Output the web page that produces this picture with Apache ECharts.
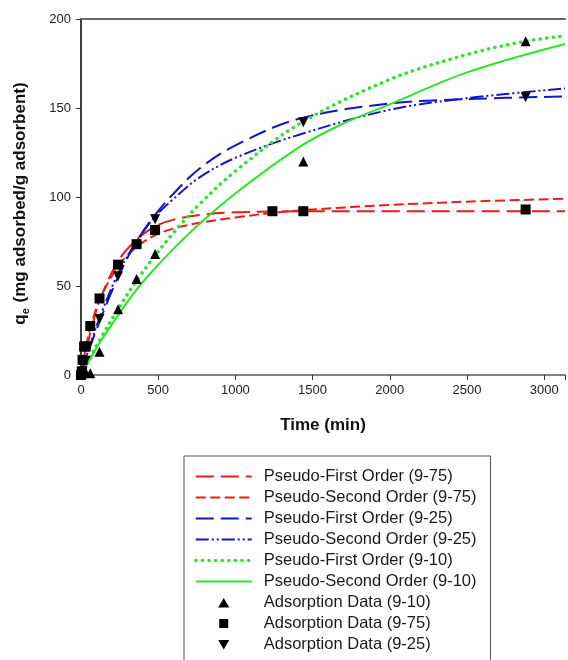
<!DOCTYPE html>
<html>
<head>
<meta charset="utf-8">
<script src="https://cdn.jsdelivr.net/npm/echarts@6/dist/echarts.min.js"></script>
<style>
html,body{margin:0;padding:0;background:#fff;}
#chart{width:568px;height:660px;}
</style>
</head>
<body>
<div id="chart"></div>
<script>
// Curve samples: [time (min), qe]
var pfo75 = [[0,0],[30,12.5],[60,23.5],[120,41.5],[240,64],[360,76],[480,83.5],[600,87.3],[800,90.2],[1000,91.4],[1500,92],[2000,92],[2500,92],[3135,92]];
var pso75 = [[0,0],[30,15],[60,26],[120,42],[240,61],[360,72],[480,78.5],[600,82.3],[768,85.5],[1000,88.5],[1284,91.5],[1500,93],[2000,95.5],[2500,97.4],[3135,99]];
var pfo25 = [[0,0],[30,8],[60,16],[120,30],[240,55],[360,75],[480,90],[600,102],[768,116],[1000,129],[1413,144],[2000,152.5],[2500,155],[3135,156.5]];
var pso25 = [[0,0],[30,9],[60,17],[120,32],[240,57],[360,75],[480,89],[600,99],[768,111],[1000,122],[1413,135],[2000,149],[2500,155.5],[3135,161]];
var pfo10 = [[0,0],[30,5],[60,10],[120,19.5],[240,37],[360,53],[480,67],[600,80],[768,96],[1000,114.5],[1413,141],[2000,166],[2500,180],[2880,187.5],[3135,190.5]];
var pso10 = [[0,0],[30,4.5],[60,9],[120,18],[240,33.5],[360,48],[480,60],[600,71],[768,85],[1000,102],[1413,128],[1692,141],[2000,152],[2500,170],[3135,186]];
// Measured data points
var data10 = [[0,0],[10,1],[30,1.5],[60,1],[120,13],[240,37],[360,54],[480,68],[1440,120],[2880,187.5]];
var data75 = [[0,0],[5,2],[10,8.5],[20,16],[30,16],[60,27.5],[120,43],[240,62],[360,73.5],[480,81.5],[1240,92],[1440,92],[2880,93]];
var data25 = [[0,0],[10,2],[30,8],[45,16],[120,31.5],[240,55.5],[480,87.5],[1440,142],[2880,156]];
var names = ['Pseudo-First Order (9-75)','Pseudo-Second Order (9-75)','Pseudo-First Order (9-25)','Pseudo-Second Order (9-25)','Pseudo-First Order (9-10)','Pseudo-Second Order (9-10)','Adsorption Data (9-10)','Adsorption Data (9-75)','Adsorption Data (9-25)'];

var FONT = '"Liberation Sans", Arial, sans-serif';
var RED = '#f01818', BLUE = '#1414c8', GREEN = '#28e628';
// legend marker icons: invisible corner points keep the 56x10 box so the marker is not stretched
var BOX = 'M0,0 L0.01,0 L0,0.01 Z M56,10 L55.99,10 L56,9.99 Z ';
var ICON_UP = 'path://' + BOX + 'M22.5,10 L33.5,10 L28,0.5 Z';
var ICON_SQ = 'path://' + BOX + 'M23.5,0.5 L32.5,0.5 L32.5,9.5 L23.5,9.5 Z';
var ICON_DN = 'path://' + BOX + 'M22.5,0.5 L33.5,0.5 L28,10 Z';

function curve(name, data, color, type, width, cap) {
  return {
    name: name, type: 'line', data: data, smooth: 0.35, symbol: 'none',
    lineStyle: {color: color, width: width, type: type, cap: cap || 'butt'},
    itemStyle: {color: color}, z: 2
  };
}
function pts(name, data, symbol, size, rot) {
  return {
    name: name, type: 'scatter', data: data, symbol: symbol, symbolSize: size,
    symbolRotate: rot || 0, itemStyle: {color: '#000', opacity: 1}, z: 5
  };
}

var legendData = names.map(function (n, i) {
  if (i < 6) {
    var d = {name: n, itemStyle: {opacity: 0}};
    if (i === 4) d.lineStyle = {width: 3.5, cap: 'round', type: [0.1, 6.5]};
    return d;
  }
  var icon = i === 6 ? ICON_UP : (i === 7 ? ICON_SQ : ICON_DN);
  return {name: n, icon: icon, itemStyle: {color: '#000', opacity: 1}};
});

var chart = echarts.init(document.getElementById('chart'), null, {renderer: 'canvas'});
chart.setOption({
  animation: false,
  grid: {left: 81, right: 1, top: 19, bottom: 285, containLabel: false},
  xAxis: [{
    type: 'value', min: 0, max: 3135, interval: 500, position: 'bottom',
    name: 'Time (min)', nameLocation: 'middle', nameGap: 42,
    nameTextStyle: {fontFamily: FONT, fontSize: 17, fontWeight: 'bold', color: '#111'},
    axisLine: {show: true, lineStyle: {color: '#555', width: 1.5}},
    axisTick: {show: true, inside: false, length: 5, lineStyle: {color: '#333'}},
    axisLabel: {fontFamily: FONT, fontSize: 13, color: '#222', margin: 9,
      formatter: function (v) { return v % 500 === 0 ? String(v) : ''; }},
    splitLine: {show: false}
  }, {
    type: 'value', min: 0, max: 3135, position: 'top',
    axisLine: {show: true, onZero: false, lineStyle: {color: '#666', width: 2}},
    axisTick: {show: false}, axisLabel: {show: false}, splitLine: {show: false}
  }],
  yAxis: [{
    type: 'value', min: 0, max: 200, interval: 50,
    name: '{q|q}{e|e}{q| (mg adsorbed/g adsorbent)}', nameLocation: 'middle', nameGap: 50,
    nameTextStyle: {fontFamily: FONT, fontSize: 17, fontWeight: 'bold', color: '#111', padding: [0, 13, 0, 0],
      rich: {
        q: {fontFamily: FONT, fontSize: 17, fontWeight: 'bold', color: '#111', lineHeight: 22, verticalAlign: 'middle'},
        e: {fontFamily: FONT, fontSize: 11, fontWeight: 'bold', color: '#111', lineHeight: 22, verticalAlign: 'bottom', padding: [0, 1, 0, 0]}
      }},
    axisLine: {show: true, onZero: false, lineStyle: {color: '#000', width: 1.5}},
    axisTick: {show: true, inside: false, length: 5, lineStyle: {color: '#333'}},
    axisLabel: {fontFamily: FONT, fontSize: 13, color: '#222', margin: 10},
    splitLine: {show: false}
  }],
  legend: {
    orient: 'vertical', left: 184, top: 456, height: 400,
    padding: [12, 14, 12, 10],
    borderColor: '#555', borderWidth: 1, backgroundColor: '#fff',
    itemWidth: 56, itemHeight: 10, itemGap: 4,
    textStyle: {fontFamily: FONT, fontSize: 16.5, color: '#1a1a1a', padding: [0, 0, 0, 7]},
    data: legendData
  },
  series: [
    curve(names[0], pfo75, RED, [18, 7], 2),
    curve(names[1], pso75, RED, [10, 4.5], 2),
    curve(names[2], pfo25, BLUE, [18, 7], 2),
    curve(names[3], pso25, BLUE, [13, 3, 2, 3, 2, 3], 2),
    curve(names[4], pfo10, GREEN, [0.1, 6.5], 3.5, 'round'),
    curve(names[5], pso10, GREEN, 'solid', 2),
    pts(names[6], data10, 'triangle', 10),
    pts(names[7], data75, 'rect', 10),
    pts(names[8], data25, 'triangle', 10, 180)
  ]
});
</script>
</body>
</html>
